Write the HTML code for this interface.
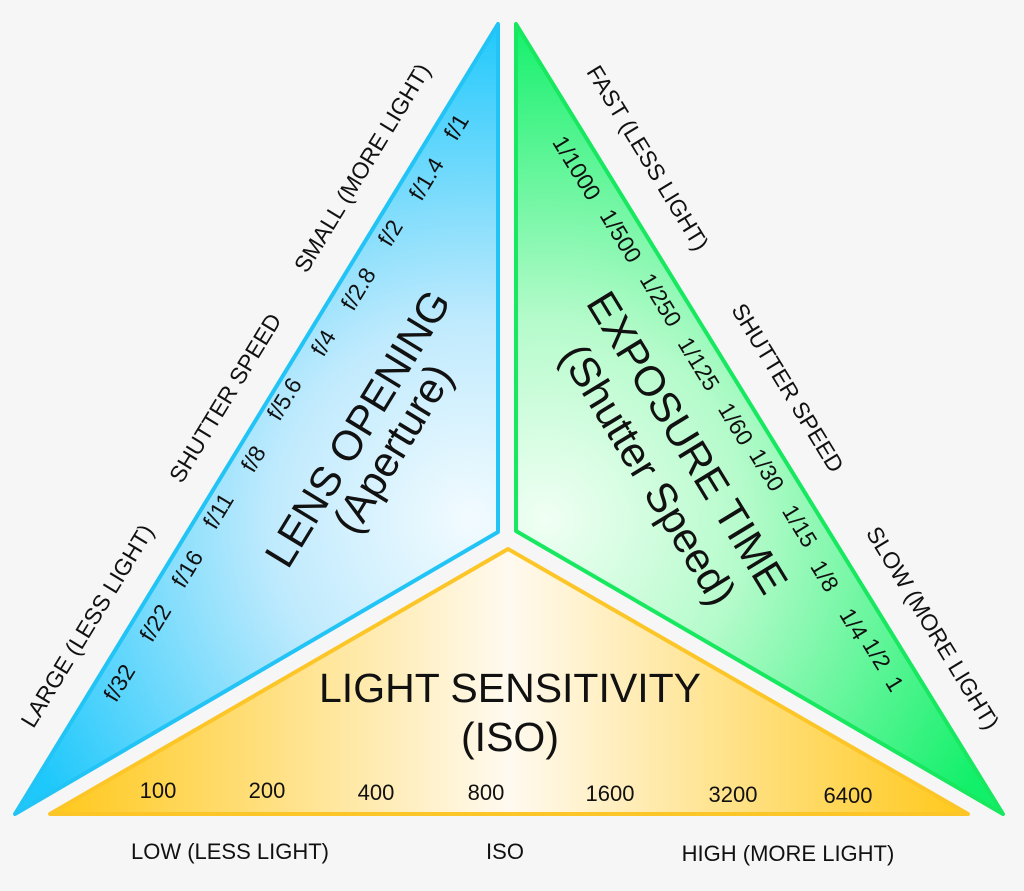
<!DOCTYPE html>
<html><head><meta charset="utf-8"><style>
html,body{margin:0;padding:0;background:#f6f6f6;}
svg{display:block;font-family:"Liberation Sans",Arial,sans-serif;}
</style></head><body>
<svg width="1024" height="891" viewBox="0 0 1024 891" xmlns="http://www.w3.org/2000/svg">
<defs>
<radialGradient id="gb" gradientUnits="userSpaceOnUse" cx="470" cy="520" r="500">
<stop offset="0" stop-color="#f2fbff"/><stop offset="0.4" stop-color="#bfeafd"/><stop offset="1" stop-color="#1ec8fb"/></radialGradient>
<radialGradient id="gg" gradientUnits="userSpaceOnUse" cx="545" cy="520" r="500">
<stop offset="0" stop-color="#f0fff4"/><stop offset="0.4" stop-color="#b5fbcb"/><stop offset="1" stop-color="#12f06a"/></radialGradient>
<linearGradient id="gy" gradientUnits="userSpaceOnUse" x1="50" y1="0" x2="968" y2="0">
<stop offset="0" stop-color="#ffc81a"/><stop offset="0.5" stop-color="#fffaf0"/><stop offset="1" stop-color="#ffc81a"/></linearGradient>
</defs>
<polygon points="498,24 498,532 15,814" fill="url(#gb)" stroke="#22c4f6" stroke-width="4" stroke-linejoin="round"/>
<polygon points="516,24 516,531 1003,814" fill="url(#gg)" stroke="#18e860" stroke-width="4" stroke-linejoin="round"/>
<polygon points="508,549 50,814 968,814" fill="url(#gy)" stroke="#fcc628" stroke-width="4" stroke-linejoin="round"/>
<g fill="#111" font-size="23" text-anchor="middle">
<text transform="translate(369,172) rotate(-58.6)">SMALL (MORE LIGHT)</text>
<text transform="translate(232,402) rotate(-58.6)">SHUTTER SPEED</text>
<text transform="translate(94,630) rotate(-58.6)">LARGE (LESS LIGHT)</text>
<text transform="translate(463,131) rotate(-58.6)">f/1</text>
<text transform="translate(433,183) rotate(-58.6)">f/1.4</text>
<text transform="translate(397,237) rotate(-58.6)">f/2</text>
<text transform="translate(365,293) rotate(-58.6)">f/2.8</text>
<text transform="translate(330,347) rotate(-58.6)">f/4</text>
<text transform="translate(291,403) rotate(-58.6)">f/5.6</text>
<text transform="translate(260,463) rotate(-58.6)">f/8</text>
<text transform="translate(225,515) rotate(-58.6)">f/11</text>
<text transform="translate(194,573) rotate(-58.6)">f/16</text>
<text transform="translate(162,627) rotate(-58.6)">f/22</text>
<text transform="translate(126,687) rotate(-58.6)">f/32</text>
<text transform="translate(641,162) rotate(58.6)">FAST (LESS LIGHT)</text>
<text transform="translate(781,392) rotate(58.6)">SHUTTER SPEED</text>
<text transform="translate(926,632) rotate(58.6)">SLOW (MORE LIGHT)</text>
<text transform="translate(570,172) rotate(58.6)">1/1000</text>
<text transform="translate(614,240) rotate(58.6)">1/500</text>
<text transform="translate(654,304) rotate(58.6)">1/250</text>
<text transform="translate(692,368) rotate(58.6)">1/125</text>
<text transform="translate(729,428) rotate(58.6)">1/60</text>
<text transform="translate(760,474) rotate(58.6)">1/30</text>
<text transform="translate(793,530) rotate(58.6)">1/15</text>
<text transform="translate(818,580) rotate(58.6)">1/8</text>
<text transform="translate(847,628) rotate(58.6)">1/4</text>
<text transform="translate(870,658) rotate(58.6)">1/2</text>
<text transform="translate(888,688) rotate(58.6)">1</text>
<g font-size="22">
<text x="158" y="798">100</text>
<text x="267" y="798">200</text>
<text x="376" y="800">400</text>
<text x="486" y="800">800</text>
<text x="610" y="801">1600</text>
<text x="733" y="802">3200</text>
<text x="848" y="803">6400</text>
<text x="230" y="859">LOW (LESS LIGHT)</text>
<text x="505" y="859">ISO</text>
<text x="788" y="861">HIGH (MORE LIGHT)</text>
</g>
</g>
<g fill="#111" font-size="42" text-anchor="middle">
<text transform="translate(370,436) rotate(-58.6)">LENS OPENING</text>
<text transform="translate(405,456) rotate(-58.6)">(Aperture)</text>
<text transform="translate(675,450) rotate(58.6)">EXPOSURE TIME</text>
<text transform="translate(636,482) rotate(58.6)">(Shutter Speed)</text>
<text x="510" y="702" font-size="41">LIGHT SENSITIVITY</text>
<text x="510" y="751" font-size="41">(ISO)</text>
</g>
</svg>
</body></html>
